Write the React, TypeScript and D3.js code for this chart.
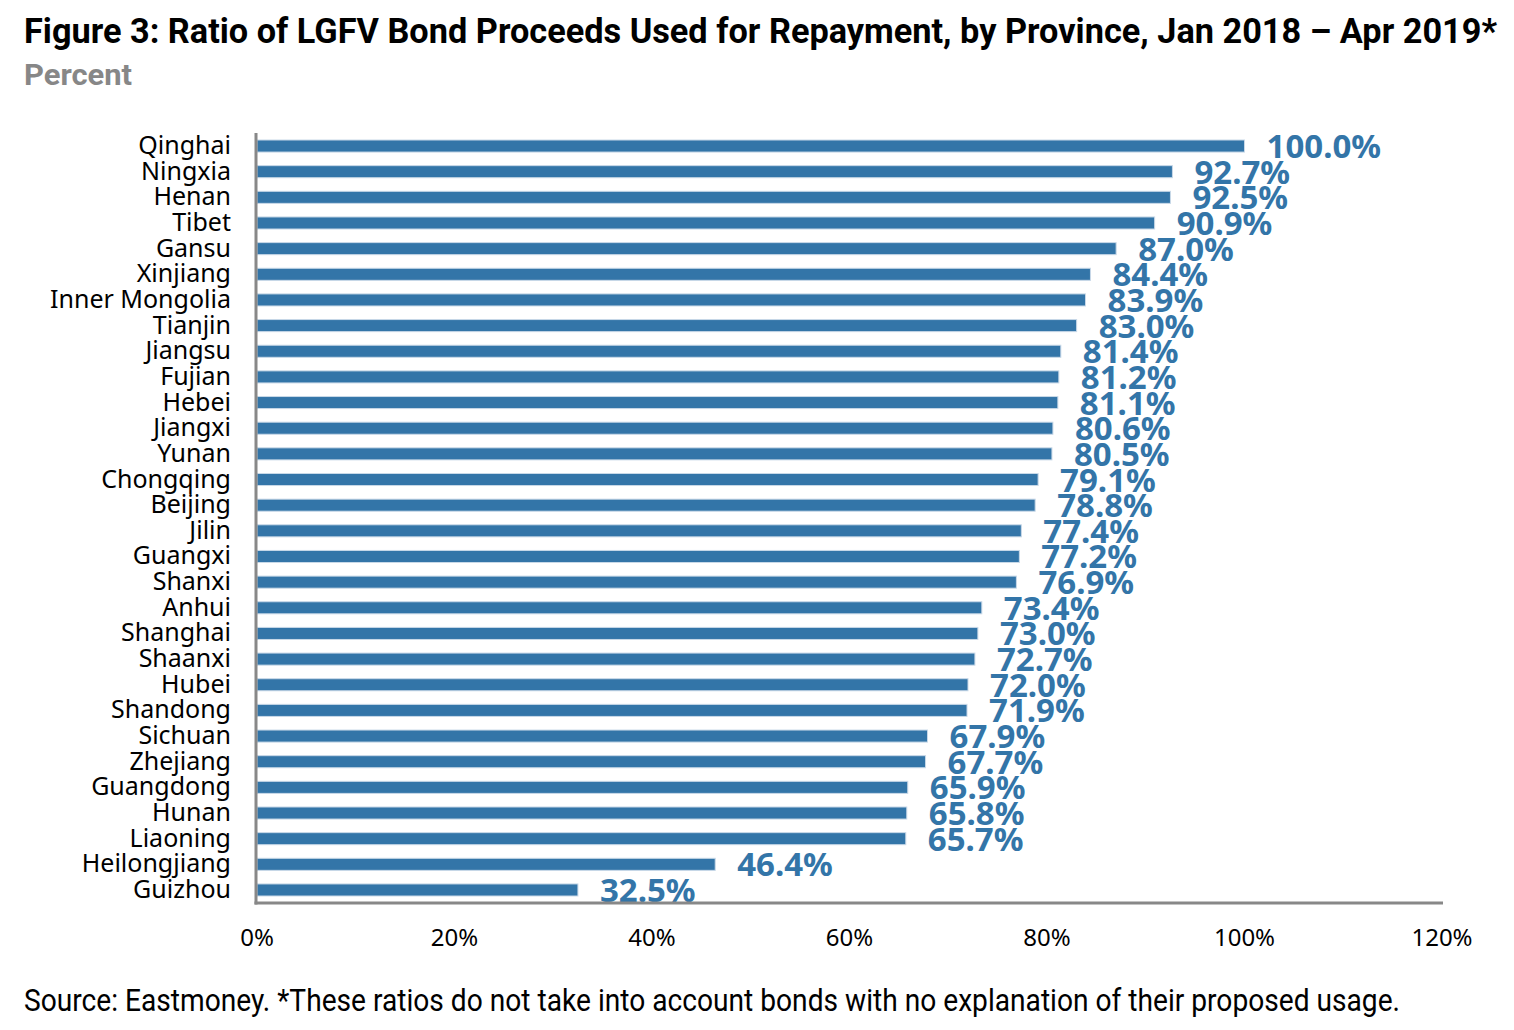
import React from "react";
import * as d3 from "d3";

const provinces = ["Qinghai","Ningxia","Henan","Tibet","Gansu","Xinjiang","Inner Mongolia","Tianjin","Jiangsu","Fujian","Hebei","Jiangxi","Yunan","Chongqing","Beijing","Jilin","Guangxi","Shanxi","Anhui","Shanghai","Shaanxi","Hubei","Shandong","Sichuan","Zhejiang","Guangdong","Hunan","Liaoning","Heilongjiang","Guizhou"];
const ratios = [100.0,92.7,92.5,90.9,87.0,84.4,83.9,83.0,81.4,81.2,81.1,80.6,80.5,79.1,78.8,77.4,77.2,76.9,73.4,73.0,72.7,72.0,71.9,67.9,67.7,65.9,65.8,65.7,46.4,32.5];
const xTicks = [0,20,40,60,80,100,120];

const titleText = "Figure 3: Ratio of LGFV Bond Proceeds Used for Repayment, by Province, Jan 2018 \u2013 Apr 2019*";
const subtitleText = "Percent";
const sourceText = "Source: Eastmoney. *These ratios do not take into account bonds with no explanation of their proposed usage.";

const W = 1514, H = 1030;
const BLUE = "#3375a8";

export default function App() {
  const x = d3.scaleLinear().domain([0, 120]).range([257, 1442]);
  const y = d3.scaleBand<string>().domain(provinces).range([133.2, 902.8]).paddingInner(0.53).paddingOuter(0.265);
  const bh = y.bandwidth();
  const data = provinces.map((p, i) => ({ p, v: ratios[i] }));
  const fmt = d3.format(".1f");
  return (
    <svg width={W} height={H} style={{ position: "absolute", left: 0, top: 0, background: "#fff" }}>
      <text x={24} y={43} fontFamily="Roboto" fontWeight={700} fontSize={35} textLength={1473} lengthAdjust="spacingAndGlyphs" fill="#000">{titleText}</text>
      <text x={24} y={85} fontFamily="Roboto" fontWeight={700} fontSize={30} textLength={108} lengthAdjust="spacingAndGlyphs" fill="#878787">{subtitleText}</text>
      {data.map(d => (
        <rect key={d.p} x={x(0)} y={y(d.p)!} width={x(d.v) - x(0)} height={bh} fill={BLUE} stroke="#c9d9e8" strokeWidth={1} />
      ))}
      {data.map(d => (
        <text key={"l" + d.p} x={231} y={y(d.p)! + bh / 2 + 8} textAnchor="end" fontFamily="'Noto Sans'" fontSize={25} fill="#000">{d.p}</text>
      ))}
      {data.map(d => (
        <text key={"v" + d.p} x={x(d.v) + 22} y={y(d.p)! + bh / 2 + 12} fontFamily="'Noto Sans'" fontWeight={700} fontSize={33} fill={BLUE}>{fmt(d.v) + "%"}</text>
      ))}
      <line x1={256} x2={256} y1={133} y2={904.5} stroke="#888" strokeWidth={3} />
      <line x1={254.5} x2={1443} y1={903} y2={903} stroke="#888" strokeWidth={3} />
      {xTicks.map(t => (
        <text key={"t" + t} x={x(t)} y={946} textAnchor="middle" fontFamily="'Noto Sans'" fontSize={24} fill="#000">{t + "%"}</text>
      ))}
      <text x={24} y={1011} fontFamily="Roboto" fontSize={32} textLength={1376} lengthAdjust="spacingAndGlyphs" fill="#000">{sourceText}</text>
    </svg>
  );
}
